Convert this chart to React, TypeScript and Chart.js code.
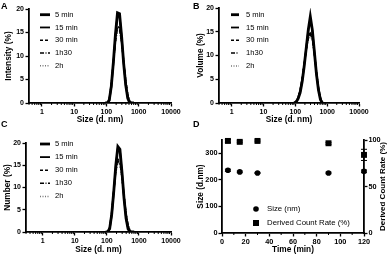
import React, { useEffect, useRef } from 'react';
import { Chart, registerables } from 'chart.js';
Chart.register(...registerables);

const FONT = "'Liberation Sans', Arial, sans-serif";
const W = 196;
const H = 129;

// ---------- DATA ----------
const SIZE_BINS = [91.28, 105.7, 122.4, 141.8, 164.2, 190.1, 220.2, 255.0, 295.3, 342.0, 396.1, 458.7, 531.2, 615.1, 712.4];
const SERIES_LABELS = ['5 min', '15 min', '30 min', '1h30', '2h'];

const INTENSITY_5MIN = [0, 0, 0.6, 3.6, 8.7, 14.6, 19.2, 19.0, 14.2, 8.4, 3.8, 1.0, 0, 0, 0];
const INTENSITY_15MIN = [0, 0, 0.5, 3.4, 8.4, 14.2, 18.8, 18.6, 14.1, 8.5, 3.9, 1.1, 0, 0, 0];
const INTENSITY_30MIN = [0, 0, 0.8, 4.0, 8.8, 13.4, 16.3, 16.0, 13.0, 8.7, 4.6, 1.6, 0.2, 0, 0];
const INTENSITY_1H30 = [0, 0, 0.9, 4.1, 8.7, 13.1, 15.9, 15.7, 12.9, 8.9, 4.8, 1.8, 0.3, 0, 0];
const INTENSITY_2H = [0, 0, 1.0, 4.3, 8.8, 12.9, 15.5, 15.3, 12.8, 9.0, 5.0, 2.0, 0.4, 0, 0];

const VOLUME_5MIN = [0, 0.2, 0.9, 2.2, 4.5, 7.8, 11.6, 15.4, 18.2, 15.4, 10.8, 6.2, 2.8, 0.7, 0];
const VOLUME_15MIN = [0, 0.2, 0.9, 2.3, 4.6, 7.9, 11.6, 15.2, 17.6, 15.2, 10.8, 6.3, 2.9, 0.8, 0];
const VOLUME_30MIN = [0, 0.3, 1.1, 2.7, 5.1, 8.2, 11.4, 13.9, 15.0, 13.6, 10.4, 6.6, 3.3, 1.0, 0];
const VOLUME_1H30 = [0, 0.3, 1.2, 2.8, 5.2, 8.2, 11.2, 13.6, 14.6, 13.4, 10.4, 6.7, 3.4, 1.1, 0];
const VOLUME_2H = [0, 0.3, 1.2, 2.9, 5.3, 8.2, 11.1, 13.3, 14.2, 13.2, 10.3, 6.8, 3.5, 1.2, 0];

const NUMBER_5MIN = [0, 0, 0.8, 4.0, 9.2, 15.0, 19.2, 18.6, 13.5, 7.6, 3.1, 0.7, 0, 0, 0];
const NUMBER_15MIN = [0, 0, 0.7, 3.8, 9.0, 14.8, 18.9, 18.3, 13.4, 7.7, 3.2, 0.8, 0, 0, 0];
const NUMBER_30MIN = [0, 0, 1.0, 4.5, 9.4, 13.9, 16.4, 15.8, 12.4, 8.0, 4.0, 1.3, 0.1, 0, 0];
const NUMBER_1H30 = [0, 0, 1.1, 4.6, 9.3, 13.6, 16.0, 15.5, 12.3, 8.2, 4.2, 1.5, 0.2, 0, 0];
const NUMBER_2H = [0, 0, 1.2, 4.8, 9.4, 13.4, 15.6, 15.1, 12.2, 8.3, 4.4, 1.7, 0.3, 0, 0];

const SIZE_TICKS = [1, 10, 100, 1000, 10000];
const PERCENT_TICKS = [0, 5, 10, 15, 20];

const TIME_MIN = [5, 15, 30, 90, 120];
const SIZE_NM = [236, 230, 226, 226, 232];
const SIZE_SD = [4, 3, 2, 3, 5];
const COUNT_RATE = [99, 98, 99, 96.5, 84];
const COUNT_RATE_SD = [1.5, 1, 1, 1, 6];
const TIME_TICKS = [0, 20, 40, 60, 80, 100, 120];
const TIME_MINOR_TICKS = [10, 30, 50, 70, 90, 110];
const SIZE_AXIS_TICKS = [0, 100, 200, 300];
const RATE_TICKS = [0, 50, 100];

// ---------- STYLE ----------
const STYLES = [
  { width: 2.8, dash: [] as number[], color: '#000' },
  { width: 1.8, dash: [] as number[], color: '#000' },
  { width: 1.5, dash: [3, 2], color: '#000' },
  { width: 1.5, dash: [4, 1.5, 1, 1.5], color: '#000' },
  { width: 1.5, dash: [1, 1.5], color: '#777' },
];

const tickFont = { family: FONT, size: 7, weight: 'bold' as const };
const tickFontD = { family: FONT, size: 7.3, weight: 'bold' as const };
const titleFont = { family: FONT, size: 8.3, weight: 'bold' as const };

const LOG_MINOR: number[] = [];
for (let e = -1; e <= 3; e++) for (let m = 2; m <= 9; m++) LOG_MINOR.push(m * Math.pow(10, e));

function minorTicksPlugin(map: Record<string, number[]>, len = 2) {
  return {
    id: 'minorTicks',
    afterDraw(chart: any) {
      const ctx = chart.ctx;
      ctx.save();
      ctx.strokeStyle = '#000';
      ctx.lineWidth = 1;
      for (const id in map) {
        const s = chart.scales[id];
        for (const v of map[id]) {
          if (v < s.min || v > s.max) continue;
          const p = s.getPixelForValue(v);
          ctx.beginPath();
          if (s.isHorizontal()) {
            ctx.moveTo(p, s.top);
            ctx.lineTo(p, s.top + len);
          } else if (s.position === 'left') {
            ctx.moveTo(s.right, p);
            ctx.lineTo(s.right - len, p);
          } else {
            ctx.moveTo(s.left, p);
            ctx.lineTo(s.left + len, p);
          }
          ctx.stroke();
        }
      }
      ctx.restore();
    },
  };
}

type Leg = { x0: number; x1: number; tx: number; y0: number; dy: number };

function lineLegendPlugin(leg: Leg) {
  return {
    id: 'lineLegend',
    afterDraw(chart: any) {
      const ctx = chart.ctx;
      ctx.save();
      chart.data.datasets.forEach((ds: any, i: number) => {
        const y = leg.y0 + i * leg.dy;
        ctx.beginPath();
        ctx.setLineDash(ds.borderDash || []);
        ctx.lineWidth = ds.borderWidth;
        ctx.strokeStyle = ds.borderColor;
        ctx.moveTo(leg.x0, y);
        ctx.lineTo(leg.x1, y);
        ctx.stroke();
        ctx.setLineDash([]);
        ctx.fillStyle = '#000';
        ctx.font = `7.6px ${FONT}`;
        ctx.textBaseline = 'middle';
        ctx.textAlign = 'left';
        ctx.fillText(ds.label, leg.tx, y);
      });
      ctx.restore();
    },
  };
}

type Area = { l: number; r: number; t: number; b: number };

const gridOpts = { display: true, drawOnChartArea: false, drawTicks: true, tickLength: 3.5, tickColor: '#000', tickWidth: 1.3 };
const borderOpts = { display: true, color: '#000', width: 1.8 };

function distConfig(series: number[][], yTitle: string, xMin: number, area: Area, leg: Leg, xTitlePad: number, yTitlePad: number): any {
  return {
    type: 'line',
    data: {
      datasets: series.map((vals, i) => ({
        label: SERIES_LABELS[i],
        data: SIZE_BINS.map((x, j) => ({ x, y: vals[j] })),
        borderColor: STYLES[i].color,
        borderWidth: STYLES[i].width,
        borderDash: STYLES[i].dash,
        pointRadius: 0,
        tension: 0,
        fill: false,
      })),
    },
    options: {
      responsive: false,
      animation: false,
      devicePixelRatio: 1,
      events: [],
      layout: { padding: { left: 0, top: area.t, right: W - area.r, bottom: 0 } },
      plugins: { legend: { display: false }, tooltip: { enabled: false } },
      scales: {
        x: {
          type: 'logarithmic',
          min: xMin,
          max: 10000,
          afterBuildTicks: (s: any) => { s.ticks = SIZE_TICKS.map((v) => ({ value: v })); },
          afterFit: (s: any) => { s.height = H - area.b; },
          ticks: { callback: (v: any) => String(v), autoSkip: false, maxRotation: 0, padding: 1, font: tickFont, color: '#000' },
          grid: gridOpts,
          border: borderOpts,
          title: { display: true, text: 'Size (d. nm)', font: titleFont, color: '#000', padding: { top: 0, bottom: xTitlePad } },
        },
        y: {
          type: 'linear',
          min: 0,
          max: 20,
          afterBuildTicks: (s: any) => { s.ticks = PERCENT_TICKS.map((v) => ({ value: v })); },
          afterFit: (s: any) => { s.width = area.l; },
          ticks: { font: tickFont, color: '#000', padding: 1.5 },
          grid: gridOpts,
          border: borderOpts,
          title: { display: true, text: yTitle, font: titleFont, color: '#000', padding: { top: yTitlePad, bottom: 0 } },
        },
      },
    },
    plugins: [minorTicksPlugin({ x: LOG_MINOR }), lineLegendPlugin(leg)],
  };
}

function timeConfig(): any {
  const area = { l: 26, r: 168, t: 11, b: 104 };
  const errorBars = {
    id: 'errorBars',
    afterDatasetsDraw(chart: any) {
      const ctx = chart.ctx;
      const xs = chart.scales.x;
      ctx.save();
      ctx.strokeStyle = '#000';
      ctx.lineWidth = 1;
      const draw = (vals: number[], sds: number[], scale: any) => {
        vals.forEach((v, i) => {
          const px = xs.getPixelForValue(TIME_MIN[i]);
          const top = scale.getPixelForValue(v + sds[i]);
          const bot = scale.getPixelForValue(v - sds[i]);
          ctx.beginPath();
          ctx.moveTo(px, top); ctx.lineTo(px, bot);
          ctx.moveTo(px - 3, top); ctx.lineTo(px + 3, top);
          ctx.moveTo(px - 3, bot); ctx.lineTo(px + 3, bot);
          ctx.stroke();
        });
      };
      draw(SIZE_NM, SIZE_SD, chart.scales.y);
      draw(COUNT_RATE, COUNT_RATE_SD, chart.scales.y1);
      ctx.restore();
    },
  };
  const pointLegend = {
    id: 'pointLegend',
    afterDraw(chart: any) {
      const ctx = chart.ctx;
      ctx.save();
      ctx.fillStyle = '#000';
      ctx.beginPath();
      ctx.arc(60, 80, 2.8, 0, Math.PI * 2);
      ctx.fill();
      ctx.fillRect(57, 91, 6, 6);
      ctx.font = `7.8px ${FONT}`;
      ctx.textBaseline = 'middle';
      ctx.textAlign = 'left';
      ctx.fillText('Size (nm)', 71, 80);
      ctx.fillText('Derived Count Rate (%)', 71, 94);
      ctx.restore();
    },
  };
  const rightTitle = {
    id: 'rightTitle',
    afterDraw(chart: any) {
      const ctx = chart.ctx;
      const ca = chart.chartArea;
      ctx.save();
      ctx.translate(187, (ca.top + ca.bottom) / 2);
      ctx.rotate(-Math.PI / 2);
      ctx.fillStyle = '#000';
      ctx.font = `bold 8px ${FONT}`;
      ctx.textAlign = 'center';
      ctx.textBaseline = 'middle';
      ctx.fillText('Derived Count Rate (%)', 0, 0);
      ctx.restore();
    },
  };
  return {
    type: 'scatter',
    data: {
      datasets: [
        {
          label: 'Size (nm)',
          data: TIME_MIN.map((t, i) => ({ x: t, y: SIZE_NM[i] })),
          yAxisID: 'y',
          pointStyle: 'circle',
          pointRadius: 2.8,
          backgroundColor: '#000',
          borderColor: '#000',
          borderWidth: 0,
          clip: false,
        },
        {
          label: 'Derived Count Rate (%)',
          data: TIME_MIN.map((t, i) => ({ x: t, y: COUNT_RATE[i] })),
          yAxisID: 'y1',
          pointStyle: 'rect',
          pointRadius: 4.2,
          backgroundColor: '#000',
          borderColor: '#000',
          borderWidth: 0,
          clip: false,
        },
      ],
    },
    options: {
      responsive: false,
      animation: false,
      devicePixelRatio: 1,
      events: [],
      layout: { padding: { left: 0, top: area.t, right: 0, bottom: 0 } },
      plugins: { legend: { display: false }, tooltip: { enabled: false } },
      scales: {
        x: {
          type: 'linear',
          min: 0,
          max: 120,
          afterBuildTicks: (s: any) => { s.ticks = TIME_TICKS.map((v) => ({ value: v })); },
          afterFit: (s: any) => { s.height = H - area.b; },
          ticks: { autoSkip: false, maxRotation: 0, padding: 1, font: tickFontD, color: '#000' },
          grid: gridOpts,
          border: borderOpts,
          title: { display: true, text: 'Time (min)', font: titleFont, color: '#000', padding: { top: 0, bottom: 3 } },
        },
        y: {
          type: 'linear',
          position: 'left',
          min: 0,
          max: 350,
          afterBuildTicks: (s: any) => { s.ticks = SIZE_AXIS_TICKS.map((v) => ({ value: v })); },
          afterFit: (s: any) => { s.width = area.l; },
          ticks: { font: tickFontD, color: '#000', padding: 1 },
          grid: gridOpts,
          border: borderOpts,
          title: { display: true, text: 'Size (d.nm)', font: titleFont, color: '#000', padding: { top: 0, bottom: 0 } },
        },
        y1: {
          type: 'linear',
          position: 'right',
          min: 0,
          max: 100,
          afterBuildTicks: (s: any) => { s.ticks = RATE_TICKS.map((v) => ({ value: v })); },
          afterFit: (s: any) => { s.width = W - area.r; },
          ticks: { font: tickFontD, color: '#000', padding: 1 },
          grid: gridOpts,
          border: borderOpts,
          title: { display: false },
        },
      },
    },
    plugins: [errorBars, minorTicksPlugin({ x: TIME_MINOR_TICKS }), pointLegend, rightTitle],
  };
}

function ChartCanvas({ make, left, top }: { make: () => any; left: number; top: number }) {
  const ref = useRef<HTMLCanvasElement>(null);
  useEffect(() => {
    const chart = new Chart(ref.current as HTMLCanvasElement, make());
    return () => chart.destroy();
  }, []);
  return <canvas ref={ref} width={W} height={H} style={{ position: 'absolute', left, top, width: W, height: H }} />;
}

const letterStyle = (left: number, top: number): React.CSSProperties => ({
  position: 'absolute', left, top, fontFamily: FONT, fontWeight: 'bold', fontSize: 9, lineHeight: 1, color: '#000',
});

export default function App() {
  return (
    <div style={{ position: 'absolute', left: 0, top: 0, width: 392, height: 258, background: '#fff' }}>
      <ChartCanvas
        left={0}
        top={0}
        make={() => distConfig([INTENSITY_5MIN, INTENSITY_15MIN, INTENSITY_30MIN, INTENSITY_1H30, INTENSITY_2H], 'Intensity (%)', 0.4,
          { l: 29, r: 171, t: 9, b: 103 }, { x0: 40, x1: 50, tx: 55, y0: 14.7, dy: 12.75 }, 4, 4)}
      />
      <ChartCanvas
        left={196}
        top={0}
        make={() => distConfig([VOLUME_5MIN, VOLUME_15MIN, VOLUME_30MIN, VOLUME_1H30, VOLUME_2H], 'Volume (%)', 0.4,
          { l: 23, r: 163, t: 8, b: 103 }, { x0: 35, x1: 43, tx: 50, y0: 14.7, dy: 12.8 }, 4, 0)}
      />
      <ChartCanvas
        left={0}
        top={129}
        make={() => distConfig([NUMBER_5MIN, NUMBER_15MIN, NUMBER_30MIN, NUMBER_1H30, NUMBER_2H], 'Number (%)', 0.34,
          { l: 26, r: 171, t: 14, b: 103 }, { x0: 40, x1: 50, tx: 55, y0: 15, dy: 13.1 }, 3, 3)}
      />
      <ChartCanvas left={196} top={129} make={timeConfig} />
      <div style={letterStyle(1, 1.5)}>A</div>
      <div style={letterStyle(193, 1.5)}>B</div>
      <div style={letterStyle(1, 120)}>C</div>
      <div style={letterStyle(193, 120)}>D</div>
    </div>
  );
}
